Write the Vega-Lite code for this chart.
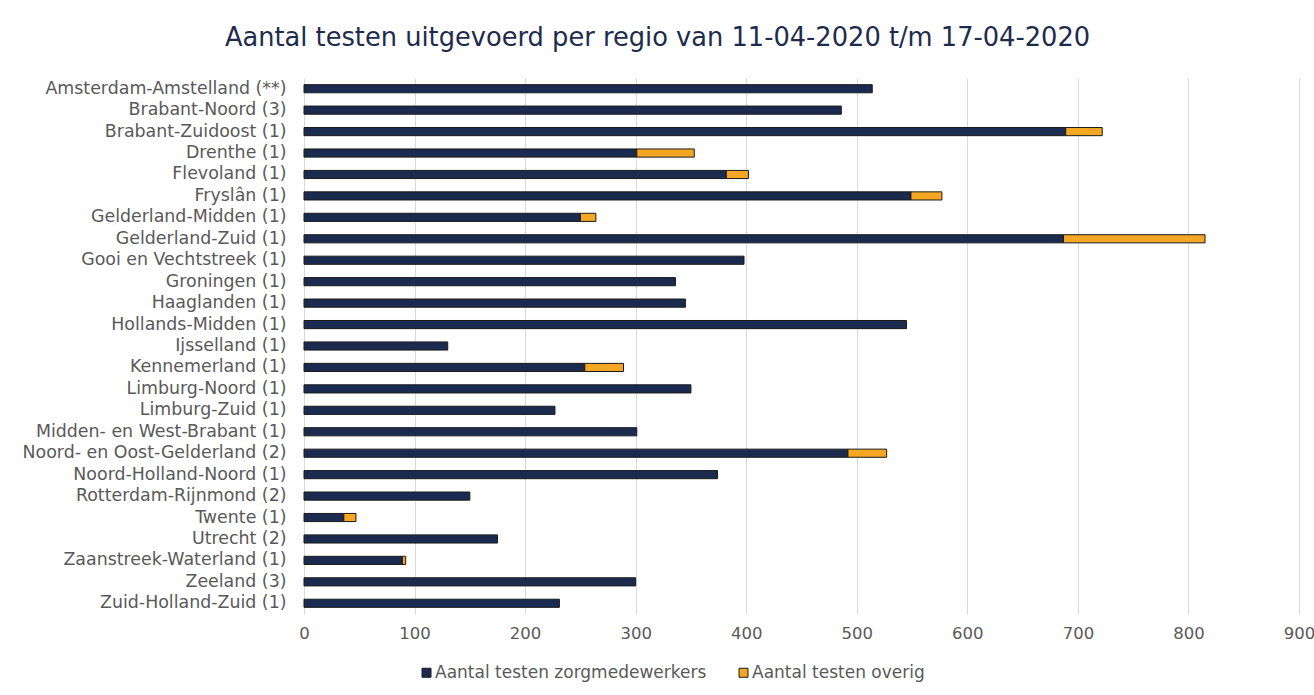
{
  "$schema": "https://vega.github.io/schema/vega-lite/v6.json",
  "width": 995,
  "height": 536,
  "autosize": {"type": "none"},
  "padding": {"left": 304, "top": 78, "right": 15, "bottom": 81},
  "background": "white",
  "title": {
    "text": "Aantal testen uitgevoerd per regio van 11-04-2020 t/m 17-04-2020",
    "font": "DejaVu Sans",
    "fontSize": 25.7,
    "fontWeight": "normal",
    "color": "#1e2b4d",
    "anchor": "middle",
    "baseline": "alphabetic",
    "dx": -144,
    "offset": 6
  },
  "data": {
    "values": [
      {"regio": "Amsterdam-Amstelland (**)", "serie": "Aantal testen zorgmedewerkers", "aantal": 514},
      {"regio": "Brabant-Noord (3)", "serie": "Aantal testen zorgmedewerkers", "aantal": 486},
      {"regio": "Brabant-Zuidoost (1)", "serie": "Aantal testen zorgmedewerkers", "aantal": 689},
      {"regio": "Brabant-Zuidoost (1)", "serie": "Aantal testen overig", "aantal": 33},
      {"regio": "Drenthe (1)", "serie": "Aantal testen zorgmedewerkers", "aantal": 301},
      {"regio": "Drenthe (1)", "serie": "Aantal testen overig", "aantal": 52},
      {"regio": "Flevoland (1)", "serie": "Aantal testen zorgmedewerkers", "aantal": 382},
      {"regio": "Flevoland (1)", "serie": "Aantal testen overig", "aantal": 20},
      {"regio": "Fryslân (1)", "serie": "Aantal testen zorgmedewerkers", "aantal": 549},
      {"regio": "Fryslân (1)", "serie": "Aantal testen overig", "aantal": 28},
      {"regio": "Gelderland-Midden (1)", "serie": "Aantal testen zorgmedewerkers", "aantal": 250},
      {"regio": "Gelderland-Midden (1)", "serie": "Aantal testen overig", "aantal": 14},
      {"regio": "Gelderland-Zuid (1)", "serie": "Aantal testen zorgmedewerkers", "aantal": 687},
      {"regio": "Gelderland-Zuid (1)", "serie": "Aantal testen overig", "aantal": 128},
      {"regio": "Gooi en Vechtstreek (1)", "serie": "Aantal testen zorgmedewerkers", "aantal": 398},
      {"regio": "Groningen (1)", "serie": "Aantal testen zorgmedewerkers", "aantal": 336},
      {"regio": "Haaglanden (1)", "serie": "Aantal testen zorgmedewerkers", "aantal": 345},
      {"regio": "Hollands-Midden (1)", "serie": "Aantal testen zorgmedewerkers", "aantal": 545},
      {"regio": "Ijsselland (1)", "serie": "Aantal testen zorgmedewerkers", "aantal": 130},
      {"regio": "Kennemerland (1)", "serie": "Aantal testen zorgmedewerkers", "aantal": 254},
      {"regio": "Kennemerland (1)", "serie": "Aantal testen overig", "aantal": 35},
      {"regio": "Limburg-Noord (1)", "serie": "Aantal testen zorgmedewerkers", "aantal": 350},
      {"regio": "Limburg-Zuid (1)", "serie": "Aantal testen zorgmedewerkers", "aantal": 227},
      {"regio": "Midden- en West-Brabant (1)", "serie": "Aantal testen zorgmedewerkers", "aantal": 301},
      {"regio": "Noord- en Oost-Gelderland (2)", "serie": "Aantal testen zorgmedewerkers", "aantal": 492},
      {"regio": "Noord- en Oost-Gelderland (2)", "serie": "Aantal testen overig", "aantal": 35},
      {"regio": "Noord-Holland-Noord (1)", "serie": "Aantal testen zorgmedewerkers", "aantal": 374},
      {"regio": "Rotterdam-Rijnmond (2)", "serie": "Aantal testen zorgmedewerkers", "aantal": 150},
      {"regio": "Twente (1)", "serie": "Aantal testen zorgmedewerkers", "aantal": 36},
      {"regio": "Twente (1)", "serie": "Aantal testen overig", "aantal": 11},
      {"regio": "Utrecht (2)", "serie": "Aantal testen zorgmedewerkers", "aantal": 175},
      {"regio": "Zaanstreek-Waterland (1)", "serie": "Aantal testen zorgmedewerkers", "aantal": 89},
      {"regio": "Zaanstreek-Waterland (1)", "serie": "Aantal testen overig", "aantal": 3},
      {"regio": "Zeeland (3)", "serie": "Aantal testen zorgmedewerkers", "aantal": 300},
      {"regio": "Zuid-Holland-Zuid (1)", "serie": "Aantal testen zorgmedewerkers", "aantal": 231}
    ]
  },
  "mark": {"type": "bar", "stroke": "#1a1a1a", "strokeWidth": 1},
  "encoding": {
    "y": {
      "field": "regio",
      "type": "nominal",
      "sort": null,
      "scale": {"paddingInner": 0.62, "paddingOuter": 0.31},
      "axis": {
        "title": null,
        "domain": false,
        "ticks": false,
        "labelPadding": 18,
        "labelFont": "DejaVu Sans",
        "labelFontSize": 17.4,
        "labelColor": "#595959",
        "labelLimit": 400
      }
    },
    "x": {
      "field": "aantal",
      "type": "quantitative",
      "stack": "zero",
      "scale": {"domain": [0, 900], "nice": false},
      "axis": {
        "title": null,
        "values": [0, 100, 200, 300, 400, 500, 600, 700, 800, 900],
        "domain": false,
        "ticks": false,
        "grid": true,
        "gridColor": "#d9d9d9",
        "gridWidth": 1,
        "labelPadding": 11,
        "labelFont": "DejaVu Sans",
        "labelFontSize": 16.5,
        "labelColor": "#595959",
        "labelFlush": false
      }
    },
    "color": {
      "field": "serie",
      "type": "nominal",
      "scale": {
        "domain": ["Aantal testen zorgmedewerkers", "Aantal testen overig"],
        "range": ["#1b2a4f", "#f5a623"]
      },
      "legend": {
        "title": null,
        "orient": "none",
        "direction": "horizontal",
        "legendX": 114,
        "legendY": 586,
        "symbolType": "square",
        "symbolSize": 81,
        "symbolStrokeColor": "#1a1a1a",
        "symbolStrokeWidth": 1,
        "labelFont": "DejaVu Sans",
        "labelFontSize": 17,
        "labelColor": "#595959",
        "labelOffset": 0,
        "columnPadding": 28,
        "labelLimit": 400,
        "padding": 0
      }
    },
    "order": {"field": "serie", "sort": "descending"}
  },
  "config": {
    "view": {"stroke": null}
  }
}
